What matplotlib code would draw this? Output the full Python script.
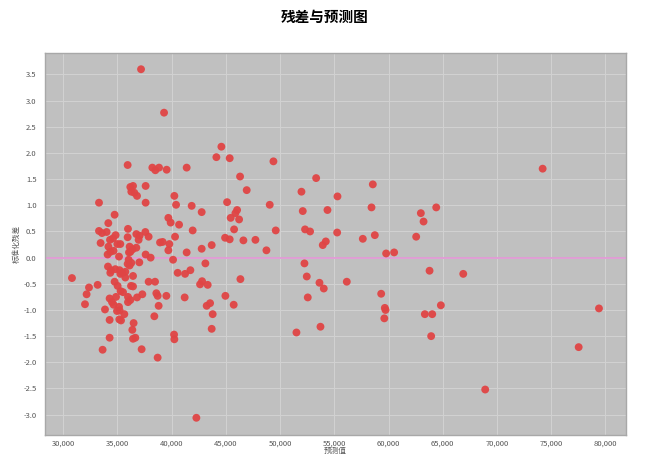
import matplotlib
matplotlib.use("Agg")
import matplotlib.pyplot as plt
from matplotlib.ticker import FuncFormatter, MultipleLocator
import numpy as np

plt.rcParams['font.family'] = ['Noto Sans CJK SC', 'DejaVu Sans']

title = "残差与预测图"
x_label = "预测值"
y_label = "标准化残差"

# predicted values
pred = [
    37172, 39295, 44583, 44122, 45350, 35937, 38215, 38492, 38833, 39535,
    41381, 46306, 46919, 36184, 36433, 36276, 36553, 36802, 37596, 40245,
    40403, 37596, 33295, 41843, 42766, 45109, 46033, 45876, 45442, 46217,
    45756, 46614, 34735, 34153, 39692, 39904, 40680, 41935, 35968, 33295,
    33572, 33997, 34827, 34588, 34310, 33442, 34985, 35261, 36738, 37043,
    37569, 37873, 36950, 35937, 38925, 39166, 39784, 40310, 42766, 43689,
    44925, 45350, 49384, 53324, 51969, 49043, 52089, 49597, 52301, 52763,
    47723, 48738, 41723, 43107, 52245, 52459, 53630, 42617, 42802, 43320,
    46338, 44953, 45719, 52551, 43228, 43541, 43781, 43689, 51507, 53723,
    58551, 55292, 58430, 64400, 62981, 63231, 54369, 55261, 58736, 57628,
    62551, 53935, 54215, 59779, 60517, 54027, 56151, 63784, 64828, 59323,
    59659, 59723, 59612, 63351, 64031, 66893, 63933, 79412, 77539, 68917,
    74216, 37596, 36120, 36397, 36738, 36059, 34338, 34642, 39692, 41381,
    34089, 35141, 38058, 40126, 36027, 36276, 35937, 36120, 37014, 34123,
    34403, 34338, 34800, 35199, 35473, 35261, 35723, 36434, 35723, 30802,
    32372, 33166, 34735, 35012, 36249, 36434, 35288, 35511, 37873, 38464,
    40551, 41233, 32151, 32002, 34274, 34495, 34864, 35968, 36184, 35968,
    36802, 37292, 34642, 35141, 34956, 35199, 35630, 33848, 38584, 38704,
    39507, 38796, 41197, 38399, 34274, 35168, 35326, 36488, 36369, 40218,
    40245, 34274, 36434, 36646, 33627, 37227, 38704, 42276, 36184, 34163,
]

# standardized residuals
resid = [
    3.60, 2.77, 2.12, 1.92, 1.90, 1.77, 1.72, 1.67, 1.72, 1.68,
    1.72, 1.55, 1.29, 1.35, 1.37, 1.26, 1.24, 1.18, 1.37, 1.18,
    1.01, 1.05, 1.05, 0.99, 0.87, 1.06, 0.91, 0.85, 0.76, 0.73,
    0.54, 0.33, 0.82, 0.66, 0.76, 0.67, 0.63, 0.52, 0.55, 0.51,
    0.47, 0.49, 0.43, 0.37, 0.34, 0.28, 0.26, 0.26, 0.45, 0.42,
    0.49, 0.40, 0.34, 0.39, 0.29, 0.30, 0.26, 0.40, 0.17, 0.24,
    0.38, 0.35, 1.84, 1.52, 1.26, 1.01, 0.89, 0.52, 0.54, 0.50,
    0.34, 0.14, -0.24, -0.11, -0.11, -0.36, -0.48, -0.51, -0.45, -0.52,
    -0.41, -0.73, -0.90, -0.76, -0.92, -0.87, -1.08, -1.36, -1.43, -1.32,
    1.40, 1.17, 0.96, 0.96, 0.85, 0.69, 0.91, 0.48, 0.43, 0.36,
    0.40, 0.24, 0.31, 0.08, 0.10, -0.59, -0.46, -0.25, -0.91, -0.69,
    -0.96, -1.00, -1.16, -1.08, -1.08, -0.31, -1.50, -0.97, -1.71, -2.52,
    1.70, 0.06, 0.21, 0.16, 0.19, 0.10, 0.11, 0.13, 0.14, 0.10,
    0.06, 0.02, 0.00, -0.04, -0.04, -0.10, -0.12, -0.15, -0.09, -0.17,
    -0.24, -0.29, -0.22, -0.24, -0.29, -0.31, -0.27, -0.35, -0.38, -0.39,
    -0.57, -0.52, -0.46, -0.54, -0.54, -0.55, -0.64, -0.66, -0.46, -0.46,
    -0.29, -0.31, -0.70, -0.89, -0.78, -0.85, -0.75, -0.75, -0.81, -0.85,
    -0.76, -0.70, -0.90, -0.94, -1.02, -1.01, -1.08, -0.99, -0.68, -0.73,
    -0.73, -0.92, -0.76, -1.12, -1.19, -1.18, -1.20, -1.25, -1.38, -1.47,
    -1.56, -1.53, -1.55, -1.53, -1.76, -1.75, -1.91, -3.06, 0.11, 0.21,
]

fig = plt.figure(figsize=(6.5, 4.57), dpi=100)
ax = fig.add_axes([0.069, 0.048, 0.894, 0.836])
ax.set_facecolor('#c0c0c0')

ax.xaxis.set_major_locator(MultipleLocator(5000))
ax.yaxis.set_major_locator(MultipleLocator(0.5))
ax.grid(True, color='#d2d2d2', lw=0.7, zorder=0)
ax.set_axisbelow(True)

ax.axhline(0, color='#e29bd6', lw=1.3, zorder=1)
ax.scatter(pred, resid, s=32, color='#e04545', edgecolors='none', alpha=0.95, zorder=2)

ax.set_xlim(28300, 81900)
ax.set_ylim(-3.39, 3.91)
ax.xaxis.set_major_formatter(FuncFormatter(lambda v, p: f"{int(v):,}"))
ax.yaxis.set_major_formatter(FuncFormatter(lambda v, p: f"{v:.1f}"))
ax.set_yticks(np.arange(-3.0, 3.51, 0.5))
ax.set_xticks(np.arange(30000, 80001, 5000))

ax.tick_params(axis='y', length=0, labelsize=5.5, labelcolor='#555555', pad=6)
ax.tick_params(axis='x', length=0, labelsize=5.5, labelcolor='#555555', pad=3)
for s in ax.spines.values():
    s.set_color('#a8a8a8')
    s.set_linewidth(1.0)

ax.set_xlabel(x_label, fontsize=5.5, color='#555555', labelpad=0)
ax.set_ylabel(y_label, fontsize=5.5, color='#555555', labelpad=2)
fig.suptitle(title, fontsize=10.5, fontweight='bold', y=0.98)

fig.savefig("out.png", dpi=100)
